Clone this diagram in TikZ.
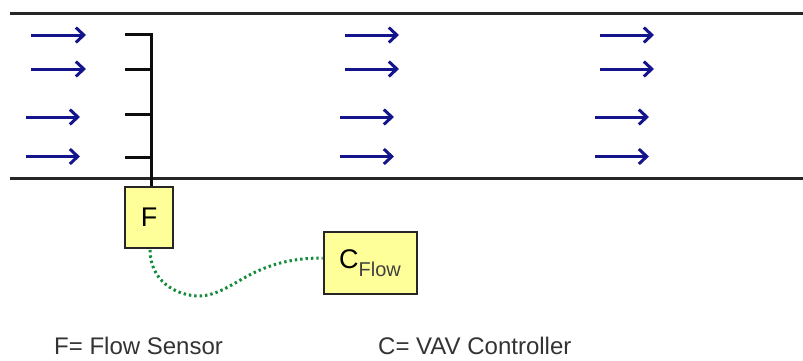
\documentclass[tikz,border=0pt]{standalone}
\usepackage{fontspec}
\setmainfont{Liberation Sans}
\usetikzlibrary{arrows.meta}
\definecolor{flow}{RGB}{20,20,140}
\definecolor{boxy}{RGB}{255,255,153}
\definecolor{wire}{RGB}{20,140,60}
\tikzset{
  x=1pt,y=-1pt,
  duct/.style={line width=3pt,black!85},
  flowarrow/.style={line width=3pt,flow,-{Straight Barb[length=8pt,width=15pt,line width=3pt]}},
  rake/.style={line width=3pt,black!95},
  boxn/.style={draw=black!85,line width=2pt,fill=boxy,inner sep=0pt,font=\fontsize{27}{30}\selectfont},
  captext/.style={font=\fontsize{24}{26}\selectfont,inner sep=0pt,anchor=base west,text=black!80},
  wirel/.style={line width=3pt,wire,dash pattern=on 2.4pt off 3pt}
}
\begin{document}
\begin{tikzpicture}
\useasboundingbox (0,0) rectangle (803,360);
\coordinate (dl1) at (10,13.5); \coordinate (dr1) at (803,13.5);
\coordinate (dl2) at (10,178); \coordinate (dr2) at (803,178);
\draw[duct] (dl1)--(dr1);
\draw[duct] (dl2)--(dr2);
\coordinate (top) at (151,34);
\coordinate (t1) at (125,34); \coordinate (t2) at (125,69.5);
\coordinate (t3) at (125,114); \coordinate (t4) at (125,157);
\node[boxn,minimum width=48pt,minimum height=61pt] (F) at (149,217.5) {F};
\node[boxn,minimum width=93pt,minimum height=62pt] (C) at (370,263) {C\raisebox{-0.3em}{\fontsize{20}{22}\selectfont\color{black!75} Flow}};
\draw[rake] (t1)--(top)--(F.north-|top);
\draw[rake] (t2)--(t2-|top);
\draw[rake] (t3)--(t3-|top);
\draw[rake] (t4)--(t4-|top);
\foreach \i/\xa/\xb/\y in {a/31/86/35,b/31/86/69,c/26/80/117,d/26/80/156.5,e/345/399/35,f/345/399/69,g/340/394/117,h/340/394/156.5,i/600/654/35,j/600/654/69,k/595/649/117,l/595/649/156.5}{
  \coordinate (s\i) at (\xa,\y); \coordinate (e\i) at (\xb,\y);
  \draw[flowarrow] (s\i)--(e\i);
}
\coordinate (ws) at (150,250);
\draw[wirel] (ws) .. controls (150,280) and (175,296) .. (200,296) .. controls (235,294) and (250,258) .. (C.west|-0,258);
\node[captext] (lf) at (54,354) {F= Flow Sensor};
\node[captext] (lc) at (378,354) {C= VAV Controller};
\end{tikzpicture}
\end{document}
